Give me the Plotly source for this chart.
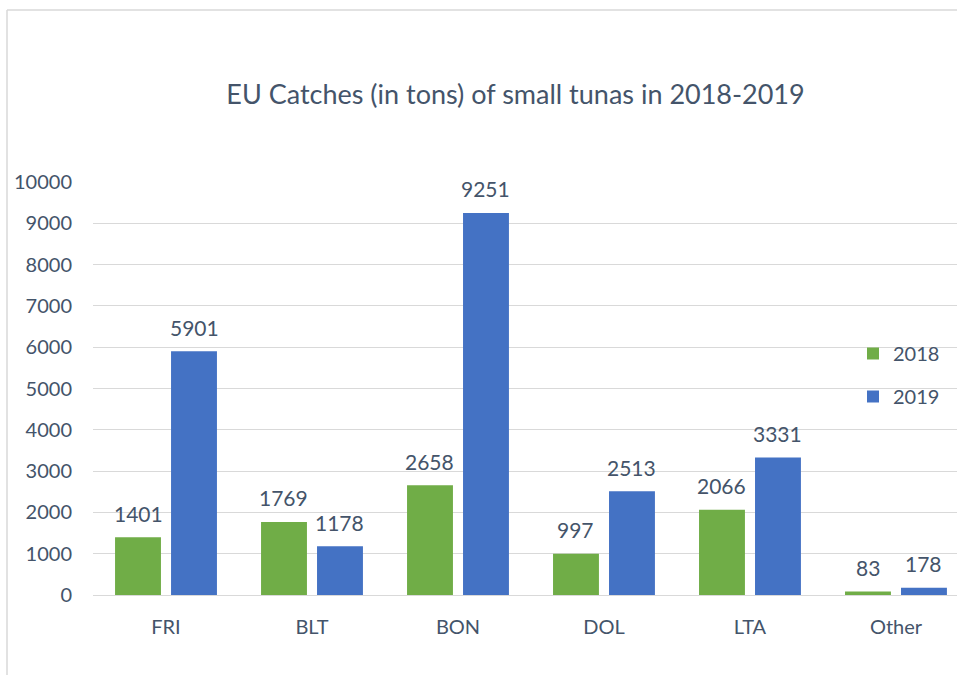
import plotly.graph_objects as go

categories = ["FRI", "BLT", "BON", "DOL", "LTA", "Other"]
catch_2018 = [1401, 1769, 2658, 997, 2066, 83]
catch_2019 = [5901, 1178, 9251, 2513, 3331, 178]
y_ticks = [0, 1000, 2000, 3000, 4000, 5000, 6000, 7000, 8000, 9000, 10000]

FONT = "Lato, 'Open Sans', sans-serif"
TXT = "#44546a"

W, H = 957, 675
L, R, T, B = 93, 0, 182, 80
pw = W - L - R
ph = H - T - B

fig = go.Figure()
fig.add_trace(go.Bar(
    x=categories, y=catch_2018, name="2018", legendgroup="a",
    marker=dict(color="#70ad47", line=dict(width=0)),
))
fig.add_trace(go.Bar(
    x=categories, y=catch_2019, name="2019", legendgroup="b",
    marker=dict(color="#4472c4", line=dict(width=0)),
))

annotations = []
for series, shift in ((catch_2018, -28), (catch_2019, 28)):
    for c, v in zip(categories, series):
        annotations.append(dict(
            x=c, y=v, xref="x", yref="y", text=str(v), showarrow=False,
            xshift=shift, yshift=24, yanchor="middle", xanchor="center",
            font=dict(family=FONT, size=21, color=TXT),
        ))

def px_x(p):
    return (p - L) / pw

def px_y(p):
    return (H - B - p) / ph

fig.update_layout(
    width=W, height=H,
    margin=dict(l=L, r=R, t=T, b=B, autoexpand=False),
    paper_bgcolor="white", plot_bgcolor="white",
    font=dict(family=FONT, size=20, color=TXT),
    title=dict(text="EU Catches (in tons) of small tunas in 2018-2019",
               x=515.5 / W, xanchor="center", y=1 - 95 / H, yanchor="middle",
               font=dict(family=FONT, size=27, color=TXT)),
    barmode="group", bargap=0.233, bargroupgap=0.18,
    xaxis=dict(range=[-0.5, 5.418], showgrid=False, showline=False,
               ticks="", tickfont=dict(family=FONT, size=20, color=TXT),
               ticklabelstandoff=18, fixedrange=True),
    yaxis=dict(range=[0, 10000], tickvals=y_ticks,
               ticktext=[str(t) for t in y_ticks], showgrid=True,
               gridcolor="#d9d9d9", gridwidth=1.4, zeroline=True,
               zerolinecolor="#d9d9d9", zerolinewidth=1.4, showline=False,
               ticks="", tickfont=dict(family=FONT, size=20, color=TXT),
               ticklabelstandoff=20, fixedrange=True),
    legend=dict(x=px_x(853), y=px_y(334), xanchor="left", yanchor="top",
                bgcolor="rgba(0,0,0,0)", font=dict(family=FONT, size=20, color=TXT),
                tracegroupgap=14, itemwidth=30),
    showlegend=True,
    annotations=annotations,
    shapes=[
        dict(type="line", xref="paper", yref="paper",
             x0=px_x(7), x1=px_x(7), y0=px_y(10), y1=px_y(700),
             line=dict(color="#d9d9d9", width=1.5)),
        dict(type="line", xref="paper", yref="paper",
             x0=px_x(7), x1=px_x(990), y0=px_y(10), y1=px_y(10),
             line=dict(color="#d9d9d9", width=1.5)),
    ],
)

fig.write_html("out.html", config={"displayModeBar": False},
               post_script="document.body.style.margin='0';document.body.style.overflow='hidden';")
